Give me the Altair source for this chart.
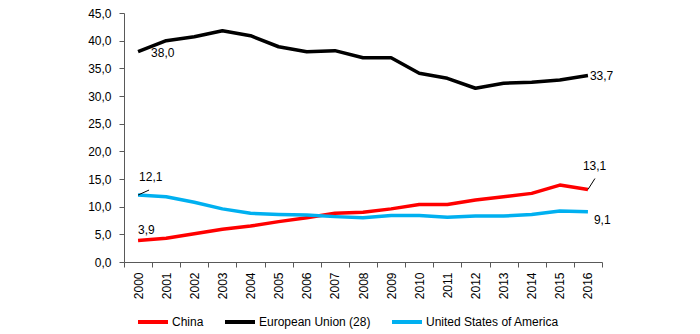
import altair as alt
import pandas as pd

years = list(range(2000, 2017))
china = [3.9, 4.3, 5.1, 5.9, 6.5, 7.3, 8.0, 8.8, 9.0, 9.6, 10.4, 10.4, 11.2, 11.8, 12.4, 13.9, 13.1]
eu = [38.0, 40.0, 40.7, 41.8, 40.9, 38.9, 38.0, 38.2, 36.9, 36.9, 34.1, 33.2, 31.4, 32.3, 32.5, 32.9, 33.7]
usa = [12.1, 11.8, 10.8, 9.6, 8.8, 8.6, 8.5, 8.2, 8.0, 8.4, 8.4, 8.1, 8.3, 8.3, 8.6, 9.2, 9.1]
series_names = ["China", "European Union (28)", "United States of America"]
series_colors = ["#FF0000", "#000000", "#00B0F0"]
y_ticks = [0, 5, 10, 15, 20, 25, 30, 35, 40, 45]

rows = []
for name, vals in zip(series_names, [china, eu, usa]):
    for y, v in zip(years, vals):
        rows.append({"year": str(y), "series": name, "value": v,
                     "label": f"{v:.1f}".replace(".", ",")})
df = pd.DataFrame(rows)

FONT = "Liberation Sans"

x_enc = alt.X("year:N", title=None,
              scale=alt.Scale(paddingInner=0, paddingOuter=0),
              axis=alt.Axis(labelAngle=-90, labelAlign="right", labelBaseline="middle",
                            tickBand="extent", tickSize=5, labelPadding=5,
                            labelOverlap=False, grid=False,
                            domainColor="#595959", tickColor="#595959",
                            labelFont=FONT, labelFontSize=12, labelColor="#000000"))
y_enc = alt.Y("value:Q", title=None,
              scale=alt.Scale(domain=[0, 45], nice=False),
              axis=alt.Axis(values=y_ticks, grid=False, tickSize=5,
                            labelPadding=8, labelOverlap=False,
                            domainColor="#595959", tickColor="#595959",
                            labelExpr="replace(format(datum.value, '.1f'), '.', ',')",
                            labelFont=FONT, labelFontSize=12, labelColor="#000000"))

lines = alt.Chart(df).mark_line(strokeWidth=3.5, strokeJoin="round").encode(
    x=x_enc, y=y_enc,
    color=alt.Color("series:N", title=None,
                    scale=alt.Scale(domain=series_names, range=series_colors),
                    legend=alt.Legend(orient="none", direction="horizontal",
                                      legendX=12, legendY=292,
                                      symbolType="stroke", symbolSize=900,
                                      symbolStrokeWidth=4, labelOffset=2,
                                      columnPadding=13, labelFont=FONT,
                                      labelFontSize=12, labelColor="#000000"))
)

def label(series, year, dx, dy, align="left"):
    return alt.Chart(df).transform_filter(
        (alt.datum.series == series) & (alt.datum.year == str(year))
    ).mark_text(font=FONT, fontSize=12, align=align, baseline="middle",
                dx=dx, dy=dy, color="#000000").encode(
        x=x_enc, y=y_enc, text="label:N")

def leader(series, year, ox, oy):
    return alt.Chart(df).transform_filter(
        (alt.datum.series == series) & (alt.datum.year == str(year))
    ).mark_rule(color="#000000", strokeWidth=1, x2Offset=ox, y2Offset=oy).encode(
        x=x_enc, x2="year:N", y=y_enc, y2="value:Q")

layers = [
    lines,
    label("European Union (28)", 2000, 13, 1),
    label("European Union (28)", 2016, 2, 0),
    label("United States of America", 2000, 1, -18),
    leader("United States of America", 2000, 11, -5),
    label("China", 2000, 0, -10),
    label("China", 2016, -5, -24),
    leader("China", 2016, 7, -11),
    label("United States of America", 2016, 6, 8),
]

chart = alt.layer(*layers).properties(
    width=478, height=249,
    background="#FFFFFF",
    autosize=alt.AutoSizeParams(type="none"),
    padding={"left": 124, "top": 13, "right": 98, "bottom": 72},
).configure_view(stroke="transparent", strokeWidth=0)

chart.save("out.html", embed_options={"renderer": "svg", "actions": False})
